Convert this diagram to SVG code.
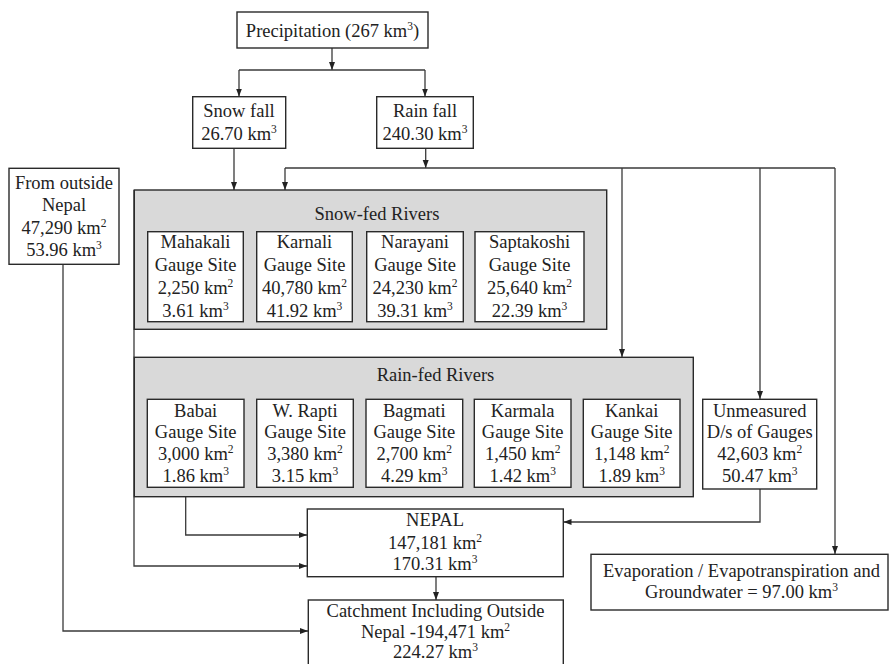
<svg xmlns="http://www.w3.org/2000/svg" width="889" height="664" viewBox="0 0 889 664">
<style>
.box{fill:#fff;stroke:#2a2a2a;stroke-width:1.4}
.grp{fill:#d9d9d9;stroke:#2a2a2a;stroke-width:1.4}
.c{fill:none;stroke:#3a3a3a;stroke-width:1.3}
.a{marker-end:url(#ah)}
text{font-family:"Liberation Serif","Times New Roman",serif;font-size:18.5px;fill:#222;text-anchor:middle}
.s{font-size:11.5px}
</style>
<defs>
<marker id="ah" markerUnits="userSpaceOnUse" markerWidth="9" markerHeight="7" refX="8" refY="3.5" orient="auto">
<path d="M0,0.5 L8,3.5 L0,6.5 z" fill="#222"/>
</marker>
</defs>
<rect width="889" height="664" fill="#fff"/>
<g id="connectors">
<path class="c a" d="M332,48 V70"/>
<path class="c" d="M239,70 H425"/>
<path class="c a" d="M239,70 V96.5"/>
<path class="c a" d="M425,70 V96.5"/>
<path class="c a" d="M234,148 V190"/>
<path class="c a" d="M425.7,148 V168"/>
<path class="c" d="M285,168 H835"/>
<path class="c a" d="M285,168 V190"/>
<path class="c a" d="M622,168 V357"/>
<path class="c a" d="M760,168 V399"/>
<path class="c a" d="M835,168 V554"/>
<path class="c a" d="M134,190 V566 H307"/>
<path class="c a" d="M185.7,497 V535 H307"/>
<path class="c a" d="M760,489 V522 H563.5"/>
<path class="c a" d="M436,577 V600"/>
<path class="c a" d="M63,264 V631 H308"/>
</g>
<g id="precipitation">
<rect class="box" x="237" y="12" width="191" height="36"/>
<text x="332.5" y="37">Precipitation (267 km<tspan class="s" dy="-7">3</tspan><tspan dy="7">)</tspan></text>
</g>
<g id="snowfall">
<rect class="box" x="192.7" y="96.7" width="93" height="51.6"/>
<text x="239" y="117">Snow fall</text>
<text x="239" y="140">26.70 km<tspan class="s" dy="-7">3</tspan></text>
</g>
<g id="rainfall">
<rect class="box" x="376.7" y="96.7" width="96.6" height="51.6"/>
<text x="425" y="117">Rain fall</text>
<text x="425" y="140">240.30 km<tspan class="s" dy="-7">3</tspan></text>
</g>
<g id="outside">
<rect class="box" x="9" y="168.3" width="110" height="96"/>
<text x="64" y="188.5">From outside</text>
<text x="64" y="211">Nepal</text>
<text x="64" y="233.5">47,290 km<tspan class="s" dy="-7">2</tspan></text>
<text x="64" y="256">53.96 km<tspan class="s" dy="-7">3</tspan></text>
</g>
<g id="snowfed">
<rect class="grp" x="134.3" y="190" width="472.4" height="139.3"/>
<text x="377" y="220">Snow-fed Rivers</text>
</g>
<g id="mahakali">
<rect class="box" x="147.7" y="231.7" width="95.6" height="90"/>
<text x="195.5" y="248">Mahakali</text>
<text x="195.5" y="271">Gauge Site</text>
<text x="195.5" y="294">2,250 km<tspan class="s" dy="-7">2</tspan></text>
<text x="195.5" y="317">3.61 km<tspan class="s" dy="-7">3</tspan></text>
</g>
<g id="karnali">
<rect class="box" x="256.7" y="231.7" width="95.6" height="90"/>
<text x="304.5" y="248">Karnali</text>
<text x="304.5" y="271">Gauge Site</text>
<text x="304.5" y="294">40,780 km<tspan class="s" dy="-7">2</tspan></text>
<text x="304.5" y="317">41.92 km<tspan class="s" dy="-7">3</tspan></text>
</g>
<g id="narayani">
<rect class="box" x="366.7" y="231.7" width="96.6" height="90"/>
<text x="415" y="248">Narayani</text>
<text x="415" y="271">Gauge Site</text>
<text x="415" y="294">24,230 km<tspan class="s" dy="-7">2</tspan></text>
<text x="415" y="317">39.31 km<tspan class="s" dy="-7">3</tspan></text>
</g>
<g id="saptakoshi">
<rect class="box" x="475" y="231.7" width="109" height="90"/>
<text x="529.5" y="248">Saptakoshi</text>
<text x="529.5" y="271">Gauge Site</text>
<text x="529.5" y="294">25,640 km<tspan class="s" dy="-7">2</tspan></text>
<text x="529.5" y="317">22.39 km<tspan class="s" dy="-7">3</tspan></text>
</g>
<g id="rainfed">
<rect class="grp" x="134.3" y="357.3" width="559" height="139.4"/>
<text x="435.5" y="381">Rain-fed Rivers</text>
</g>
<g id="babai">
<rect class="box" x="147.3" y="399.3" width="96.7" height="88"/>
<text x="195.7" y="416.7">Babai</text>
<text x="195.7" y="438.3">Gauge Site</text>
<text x="195.7" y="460">3,000 km<tspan class="s" dy="-7">2</tspan></text>
<text x="195.7" y="481.7">1.86 km<tspan class="s" dy="-7">3</tspan></text>
</g>
<g id="wrapti">
<rect class="box" x="256.7" y="399.3" width="96.6" height="88"/>
<text x="305" y="416.7">W. Rapti</text>
<text x="305" y="438.3">Gauge Site</text>
<text x="305" y="460">3,380 km<tspan class="s" dy="-7">2</tspan></text>
<text x="305" y="481.7">3.15 km<tspan class="s" dy="-7">3</tspan></text>
</g>
<g id="bagmati">
<rect class="box" x="366" y="399.3" width="96.7" height="88"/>
<text x="414.3" y="416.7">Bagmati</text>
<text x="414.3" y="438.3">Gauge Site</text>
<text x="414.3" y="460">2,700 km<tspan class="s" dy="-7">2</tspan></text>
<text x="414.3" y="481.7">4.29 km<tspan class="s" dy="-7">3</tspan></text>
</g>
<g id="karmala">
<rect class="box" x="474.3" y="399.3" width="96.7" height="88"/>
<text x="522.7" y="416.7">Karmala</text>
<text x="522.7" y="438.3">Gauge Site</text>
<text x="522.7" y="460">1,450 km<tspan class="s" dy="-7">2</tspan></text>
<text x="522.7" y="481.7">1.42 km<tspan class="s" dy="-7">3</tspan></text>
</g>
<g id="kankai">
<rect class="box" x="583.3" y="399.3" width="96.7" height="88"/>
<text x="631.7" y="416.7">Kankai</text>
<text x="631.7" y="438.3">Gauge Site</text>
<text x="631.7" y="460">1,148 km<tspan class="s" dy="-7">2</tspan></text>
<text x="631.7" y="481.7">1.89 km<tspan class="s" dy="-7">3</tspan></text>
</g>
<g id="unmeasured">
<rect class="box" x="702.7" y="399.3" width="114" height="89.7"/>
<text x="759.7" y="416.7">Unmeasured</text>
<text x="759.7" y="438.3">D/s of Gauges</text>
<text x="759.7" y="460">42,603 km<tspan class="s" dy="-7">2</tspan></text>
<text x="759.7" y="481.7">50.47 km<tspan class="s" dy="-7">3</tspan></text>
</g>
<g id="nepal">
<rect class="box" x="307.3" y="509" width="256" height="67.7"/>
<text x="435" y="525.7">NEPAL</text>
<text x="435" y="549">147,181 km<tspan class="s" dy="-7">2</tspan></text>
<text x="435" y="570">170.31 km<tspan class="s" dy="-7">3</tspan></text>
</g>
<g id="evaporation">
<rect class="box" x="591" y="554.3" width="297" height="55.7"/>
<text x="741.5" y="576.7">Evaporation / Evapotranspiration and</text>
<text x="741.5" y="598.3">Groundwater = 97.00 km<tspan class="s" dy="-7">3</tspan></text>
</g>
<g id="catchment">
<rect class="box" x="308.3" y="600" width="255" height="70"/>
<text x="435.5" y="616.7">Catchment Including Outside</text>
<text x="435.5" y="638.3">Nepal -194,471 km<tspan class="s" dy="-7">2</tspan></text>
<text x="435.5" y="658.3">224.27 km<tspan class="s" dy="-7">3</tspan></text>
</g>
</svg>
